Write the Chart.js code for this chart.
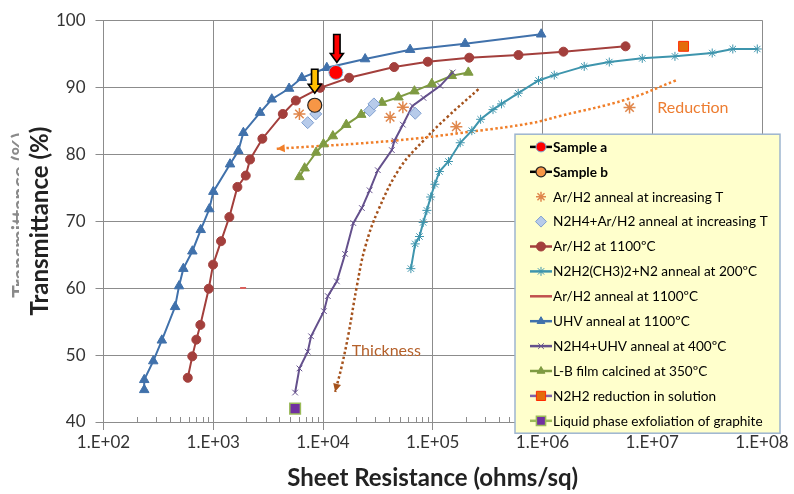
<!DOCTYPE html>
<html>
<head>
<meta charset="utf-8">
<script src="https://cdn.jsdelivr.net/npm/chart.js@4.4.1/dist/chart.umd.min.js"></script>
<style>
  html, body { margin: 0; padding: 0; background: #fff; }
</style>
</head>
<body>
<canvas id="chart" width="794" height="494"></canvas>
<script>
// axis ticks
const xTicks = [1e2, 1e3, 1e4, 1e5, 1e6, 1e7, 1e8];
const xTickLabels = ["1.E+02", "1.E+03", "1.E+04", "1.E+05", "1.E+06", "1.E+07", "1.E+08"];
const yTicks = [40, 50, 60, 70, 80, 90, 100];

// sheet resistance (ohms/sq) and transmittance (%) per series
const sampleAR = [13100];
const sampleAT = [92.2];
const sampleBR = [8410];
const sampleBT = [87.3];

const arIncR = [6100, 40900, 53400, 164000, 6210000];
const arIncT = [86.0, 85.5, 87.0, 84.1, 86.95];

const hzIncR = [7250, 8590, 26600, 29100, 69200];
const hzIncT = [84.7, 86.0, 86.5, 87.5, 86.1];

const ar1100R = [586, 644, 701, 763, 910, 996, 1178, 1402, 1660, 1978, 2164, 2803, 4303, 5655, 9410, 17300, 44500, 90100, 215000, 604000, 1552000, 5710000];
const ar1100T = [46.6, 49.8, 52.3, 54.5, 59.9, 63.5, 67.0, 70.6, 75.1, 76.8, 79.2, 82.3, 86.0, 88.0, 89.9, 91.4, 93.0, 93.8, 94.4, 94.8, 95.3, 96.1];

const dmhR = [63200, 69200, 75700, 81800, 88400, 95700, 104500, 115000, 139000, 178000, 227000, 273000, 354000, 423000, 601000, 921000, 1280000, 2400000, 4060000, 8110000, 16100000, 35200000, 54200000, 90600000];
const dmhT = [62.9, 66.6, 67.7, 69.8, 71.6, 73.6, 75.5, 77.4, 78.9, 81.7, 83.5, 85.2, 86.65, 87.5, 89.1, 91.0, 91.8, 93.1, 93.75, 94.3, 94.6, 95.1, 95.7, 95.7];

const arAnnealR = [1870];
const arAnnealT = [60.0];

const uhvR = [235, 235, 284, 340, 449, 488, 534, 645, 769, 921, 1002, 1422, 1693, 1881, 2670, 3415, 4911, 6412, 10830, 24200, 62200, 197000, 973000];
const uhvT = [44.8, 46.3, 49.1, 52.2, 57.2, 60.3, 62.9, 65.5, 68.7, 71.8, 74.4, 78.5, 80.5, 83.2, 86.2, 88.2, 89.8, 91.4, 92.9, 94.2, 95.6, 96.5, 97.9];

const hzUhvR = [5570, 6100, 7260, 7790, 10200, 11060, 13370, 15900, 18900, 22600, 26600, 31600, 42400, 44800, 53400, 65300, 82300, 117000, 152000];
const hzUhvT = [44.4, 48.0, 50.5, 52.8, 56.55, 58.8, 61.0, 65.1, 69.7, 71.95, 74.6, 77.6, 80.6, 82.0, 84.4, 87.2, 88.4, 90.2, 92.2];

const lbR = [6100, 6800, 8650, 10100, 12300, 16300, 22300, 34400, 48700, 68100, 98100, 149000, 211000];
const lbT = [76.6, 77.9, 80.25, 81.5, 82.7, 84.4, 85.9, 87.7, 88.5, 89.4, 90.5, 91.7, 92.2];

const n2h2SolR = [19300000];
const n2h2SolT = [96.1];

const lpeR = [5570];
const lpeT = [42.0];

// trend arrows (drawn from first point to the arrow head)
const reductionR = [16400000, 5920000, 1450000, 773000, 233000, 43600, 3790];
const reductionT = [91.0, 88.2, 85.7, 84.6, 83.4, 82.0, 80.8];
const thicknessR = [261000, 135000, 82200, 50500, 31800, 24200, 20300, 17100, 14800, 12900];
const thicknessT = [89.7, 85.5, 82.0, 78.0, 71.6, 66.1, 60.2, 53.2, 48.3, 44.5];

const pts = (r, t) => r.map((v, i) => ({ x: v, y: t[i] }));

Chart.defaults.font.family = "Lato";
Chart.defaults.color = "#333";

const series = (label, r, t, style) => Object.assign({
  label: label,
  data: pts(r, t),
  showLine: true,
  borderWidth: 2,
  tension: 0,
  pointBorderWidth: 1,
}, style);

const datasets = [
  series("Sample a", sampleAR, sampleAT, { showLine: false, pointStyle: "circle", pointRadius: 7, pointBackgroundColor: "#ff0000", pointBorderColor: "#7fb2d8", legendLine: "#000", legendRadius: 5, bold: true }),
  series("Sample b", sampleBR, sampleBT, { showLine: false, pointStyle: "circle", pointRadius: 7, pointBackgroundColor: "#f79646", pointBorderColor: "#222", pointBorderWidth: 1.2, legendLine: "#000", legendRadius: 5, bold: true }),
  series("Ar/H2 anneal at increasing T", arIncR, arIncT, { showLine: false, pointStyle: "star", pointRadius: 6, pointBorderColor: "#e0874c", pointBorderWidth: 1.5, legendRadius: 5 }),
  series("N2H4+Ar/H2 anneal at increasing T", hzIncR, hzIncT, { showLine: false, pointStyle: "rectRot", pointRadius: 6, pointBackgroundColor: "#b7cbea", pointBorderColor: "#7f9fd0", legendRadius: 5.5 }),
  series("Ar/H2 at 1100ºC", ar1100R, ar1100T, { borderColor: "#a33f3c", pointStyle: "circle", pointRadius: 4.5, pointBackgroundColor: "#a33f3c", pointBorderColor: "#a33f3c", legendLine: "#a33f3c", legendRadius: 4.5 }),
  series("N2H2(CH3)2+N2 anneal at 200ºC", dmhR, dmhT, { borderColor: "#3e95ad", pointStyle: "star", pointRadius: 4.5, pointBorderColor: "#3e95ad", legendLine: "#3e95ad", legendRadius: 4.5 }),
  series("Ar/H2 anneal at 1100ºC", arAnnealR, arAnnealT, { showLine: false, pointStyle: "line", pointRadius: 3, pointBorderColor: "#d9605c", pointBorderWidth: 2, legendLine: "#c0504d", legendRadius: 0 }),
  series("UHV anneal at 1100ºC", uhvR, uhvT, { borderColor: "#4071ab", pointStyle: "triangle", pointRadius: 5.5, pointBackgroundColor: "#4071ab", pointBorderColor: "#4071ab", legendLine: "#4071ab", legendRadius: 4.5 }),
  series("N2H4+UHV anneal at 400ºC", hzUhvR, hzUhvT, { borderColor: "#64508c", pointStyle: "crossRot", pointRadius: 4, pointBorderColor: "#64508c", legendLine: "#64508c", legendRadius: 4 }),
  series("L-B film calcined at 350ºC", lbR, lbT, { borderColor: "#7f9b42", pointStyle: "triangle", pointRadius: 5.5, pointBackgroundColor: "#7f9b42", pointBorderColor: "#7f9b42", legendLine: "#7f9b42", legendRadius: 4.5 }),
  series("N2H2 reduction in solution", n2h2SolR, n2h2SolT, { showLine: false, pointStyle: "rect", pointRadius: 7, pointBackgroundColor: "#e36c0a", pointBorderColor: "#ff2a00", legendLine: "#7f62a8", legendRadius: 6.5 }),
  series("Liquid phase exfoliation of graphite", lpeR, lpeT, { showLine: false, pointStyle: "rect", pointRadius: 7.5, pointBackgroundColor: "#7030a0", pointBorderColor: "#9bbb59", pointBorderWidth: 1.5, legendLine: "#9bbb59", legendRadius: 6.5 }),
  series("Reduction", reductionR, reductionT, { noLegend: true, borderColor: "#f07f2a", borderWidth: 2.5, borderDash: [2.5, 2.5], tension: 0.4, pointRadius: 0 }),
  series("Thickness", thicknessR, thicknessT, { noLegend: true, borderColor: "#a5521c", borderWidth: 2.5, borderDash: [2.5, 2.5], tension: 0.4, pointRadius: 0 }),
];

function arrowHead(ctx, x, y, fromX, fromY, color, len, half) {
  const a = Math.atan2(y - fromY, x - fromX);
  ctx.save();
  ctx.translate(x, y);
  ctx.rotate(a);
  ctx.fillStyle = color;
  ctx.beginPath();
  ctx.moveTo(0, 0);
  ctx.lineTo(-len, -half);
  ctx.lineTo(-len, half);
  ctx.closePath();
  ctx.fill();
  ctx.restore();
}

// block arrow pointing down at a marker
function downArrow(ctx, x, tipY, tailY, fill) {
  const shaft = 3.2, head = 6.5, headLen = 9;
  ctx.save();
  ctx.beginPath();
  ctx.moveTo(x - shaft, tailY);
  ctx.lineTo(x + shaft, tailY);
  ctx.lineTo(x + shaft, tipY - headLen);
  ctx.lineTo(x + head, tipY - headLen);
  ctx.lineTo(x, tipY);
  ctx.lineTo(x - head, tipY - headLen);
  ctx.lineTo(x - shaft, tipY - headLen);
  ctx.closePath();
  ctx.fillStyle = fill;
  ctx.fill();
  ctx.lineWidth = 1.6;
  ctx.strokeStyle = "#000";
  ctx.stroke();
  ctx.restore();
}

const minorTicks = {
  id: "minorTicks",
  beforeDatasetsDraw(chart) {
    const ctx = chart.ctx, xs = chart.scales.x, bottom = chart.chartArea.bottom;
    ctx.save();
    ctx.strokeStyle = "#8c8c8c";
    ctx.lineWidth = 1;
    for (let d = 1e2; d < 1e8; d *= 10) {
      for (let k = 2; k <= 9; k++) {
        const x = Math.round(xs.getPixelForValue(k * d)) + 0.5;
        ctx.beginPath();
        ctx.moveTo(x, bottom);
        ctx.lineTo(x, bottom - 5);
        ctx.stroke();
      }
    }
    ctx.restore();
  },
};

const notes = {
  id: "notes",
  afterDatasetsDraw(chart) {
    const ctx = chart.ctx, xs = chart.scales.x, ys = chart.scales.y;
    // arrow heads at the end of the trend curves
    [12, 13].forEach((i) => {
      const data = chart.getDatasetMeta(i).data;
      const last = data[data.length - 1], prev = data[data.length - 2];
      const fx = last.cp1x !== undefined ? last.cp1x : prev.x;
      const fy = last.cp1y !== undefined ? last.cp1y : prev.y;
      arrowHead(ctx, last.x, last.y, fx, fy, chart.data.datasets[i].borderColor, 8, 4);
    });

    ctx.save();
    ctx.font = "16px Lato";
    ctx.textBaseline = "middle";
    ctx.textAlign = "left";
    ctx.fillStyle = "#ed7d31";
    ctx.fillText("Reduction", xs.getPixelForValue(1.11e7), ys.getPixelForValue(86.9));
    ctx.fillStyle = "#b5612b";
    ctx.fillText("Thickness", xs.getPixelForValue(18300), ys.getPixelForValue(50.7));
    ctx.restore();

    const a = chart.getDatasetMeta(0).data[0];
    const b = chart.getDatasetMeta(1).data[0];
    downArrow(ctx, a.x + 1, a.y - 10, a.y - 38, "#ff0000");
    downArrow(ctx, b.x, b.y - 12, b.y - 36, "#ffc000");
  },
};

const legendBox = {
  id: "legendBox",
  afterDraw(chart) {
    const ctx = chart.ctx, area = chart.chartArea;
    const left = area.right - 247, top = area.top + 114, w = 265, h = 299;
    ctx.save();
    ctx.fillStyle = "#ffffcc";
    ctx.fillRect(left, top, w, h);
    ctx.strokeStyle = "#9db5cf";
    ctx.lineWidth = 1.5;
    ctx.strokeRect(left, top, w, h);

    let row = 0;
    chart.data.datasets.forEach((ds) => {
      if (ds.noLegend) return;
      const y = top + 12.7 + row * 24.9;
      const mx = left + 26;
      if (ds.legendLine) {
        ctx.strokeStyle = ds.legendLine;
        ctx.lineWidth = 2.5;
        ctx.setLineDash([]);
        ctx.beginPath();
        ctx.moveTo(left + 15, y);
        ctx.lineTo(left + 37, y);
        ctx.stroke();
      }
      if (ds.legendRadius) {
        ctx.fillStyle = ds.pointBackgroundColor || "transparent";
        ctx.strokeStyle = ds.pointBorderColor;
        ctx.lineWidth = ds.pointBorderWidth || 1;
        Chart.helpers.drawPoint(ctx, { pointStyle: ds.pointStyle, radius: ds.legendRadius, rotation: 0, borderWidth: ctx.lineWidth }, mx, y);
      }
      ctx.fillStyle = "#000";
      ctx.font = (ds.bold ? "bold " : "") + "13.6px Lato";
      ctx.textBaseline = "middle";
      ctx.textAlign = "left";
      ctx.fillText(ds.label, left + 38, y + 0.5);
      row++;
    });
    ctx.restore();
  },
};

// faint leftover copy of the y title, partly hidden at the left edge
const ghostTitle = {
  id: "ghostTitle",
  beforeDraw(chart) {
    const ctx = chart.ctx, area = chart.chartArea;
    ctx.save();
    ctx.beginPath();
    ctx.rect(0, 0, 19, chart.height);
    ctx.clip();
    ctx.translate(20, (area.top + area.bottom) / 2 - 6);
    ctx.rotate(-Math.PI / 2);
    ctx.font = "bold 21px Lato";
    ctx.fillStyle = "#8a8a8a";
    ctx.textAlign = "center";
    ctx.textBaseline = "middle";
    ctx.fillText("Transmittance (%)", 0, 0);
    ctx.restore();
  },
};

new Chart(document.getElementById("chart").getContext("2d"), {
  type: "scatter",
  data: { datasets: datasets },
  plugins: [ghostTitle, minorTicks, notes, legendBox],
  options: {
    responsive: false,
    devicePixelRatio: 1,
    animation: false,
    layout: { padding: { left: 22, right: 32, top: 19, bottom: 0 } },
    plugins: {
      legend: { display: false },
      tooltip: { enabled: false },
    },
    scales: {
      x: {
        type: "logarithmic",
        min: 1e2,
        max: 1e8,
        afterBuildTicks: (scale) => {
          scale.ticks = xTicks.map((v) => ({ value: v }));
        },
        afterFit: (scale) => {
          scale.height = 72;
        },
        ticks: {
          autoSkip: false,
          maxRotation: 0,
          padding: 2,
          color: "#333",
          font: { size: 17 },
          callback: (value) => xTickLabels[xTicks.indexOf(value)],
        },
        grid: { color: "#8c8c8c", tickColor: "#8c8c8c", tickLength: 8 },
        border: { color: "#8c8c8c" },
        title: {
          display: true,
          text: "Sheet Resistance (ohms/sq)",
          color: "#222",
          font: { size: 24, weight: "bold", lineHeight: 1.0 },
        },
      },
      y: {
        min: 40,
        max: 100,
        afterBuildTicks: (scale) => {
          scale.ticks = yTicks.map((v) => ({ value: v }));
        },
        afterFit: (scale) => {
          scale.width = 81.5;
        },
        ticks: { padding: 10, color: "#333", font: { size: 17 } },
        grid: { color: "#8c8c8c", tickColor: "#8c8c8c", tickLength: 8 },
        border: { color: "#8c8c8c" },
        title: {
          display: true,
          text: "Transmittance (%)",
          color: "#222",
          font: { size: 24, weight: "bold" },
        },
      },
    },
  },
});
</script>
</body>
</html>
